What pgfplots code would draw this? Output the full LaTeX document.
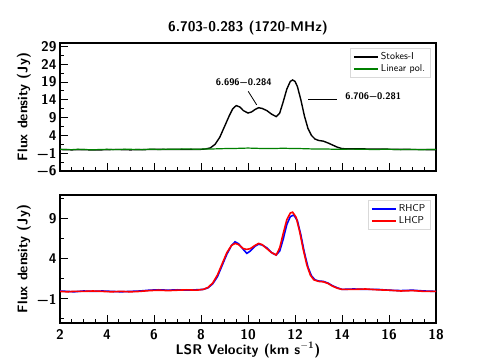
\documentclass[border=0pt]{standalone}
\usepackage{pgfplots}
\pgfplotsset{compat=1.18}
\definecolor{mplgreen}{RGB}{0,128,0}
\begin{document}
\begin{tikzpicture}
\pgfplotsset{
  panel/.style={
    scale only axis, width=376pt, height=128pt,
    xmin=2, xmax=18, xtick={2,4,...,18}, minor x tick num=3,
    tick align=inside, tick pos=left,
    axis line style={line width=1.6pt},
    major tick length=8pt, minor tick length=4pt,
    every tick/.style={black, line width=1pt},
    tick label style={font=\fontsize{14}{16}\selectfont\sffamily\bfseries},
    /pgf/number format/assume math mode=true,
    label style={font=\fontsize{14}{16}\selectfont\sffamily\bfseries},
    ylabel style={at={([xshift=-36pt]rel axis cs:0,0.5)}, anchor=center},
    xticklabel style={yshift=-3pt},
    legend cell align=left,
    legend style={
      font=\fontsize{10}{12}\selectfont\sffamily,
      draw=black!15, fill=white,
      at={(0.985,0.96)}, anchor=north east,
    },
    legend image code/.code={\draw[mark repeat=2,mark phase=2,##1]
      plot coordinates {(0pt,0pt) (12pt,0pt) (24pt,0pt)};},
    legend image post style={line width=2pt},
  }
}
\path[use as bounding box] (0pt,0pt) rectangle (484pt,363pt);

% upper panel: Stokes-I and linear polarisation
\begin{axis}[panel,
  at={(60pt,192pt)}, anchor=south west,
  ymin=-6, ymax=30,
  ytick={-6,-1,4,9,14,19,24,29},
  yticklabels={−6,−1,4,9,14,19,24,29},
  minor ytick={-3.5,1.5,6.5,11.5,16.5,21.5,26.5},
  xticklabels={},
  ylabel={Flux density (Jy)},
  title={6.703-0.283 (1720-MHz)},
  title style={font=\fontsize{14}{16}\selectfont\sffamily\bfseries,
    at={(rel axis cs:0.5,1)}, anchor=base, yshift=5.7pt},
]
\addplot[black, line width=1.4pt] coordinates {
(2.0,0.05) (2.25,0.0) (2.5,-0.05) (2.75,0.0) (3.0,0.0) (3.25,-0.05) (3.5,-0.1)
(3.75,-0.05) (4.0,0.0) (4.25,0.05) (4.5,0.05) (4.75,0.0) (5.0,-0.05) (5.25,0.0)
(5.5,0.0) (5.75,0.05) (6.0,0.1) (6.25,0.1) (6.5,0.05) (6.75,0.1) (7.0,0.1)
(7.25,0.05) (7.5,0.05) (7.75,0.1) (8.0,0.1) (8.2,0.2) (8.4,0.5) (8.6,1.5)
(8.8,3.5) (9.0,6.5) (9.2,9.5) (9.35,11.5) (9.5,12.4) (9.65,12.0) (9.8,11.0)
(10.0,10.3) (10.15,10.6) (10.3,11.3) (10.45,11.8) (10.6,11.6) (10.8,11.0)
(11.0,10.0) (11.2,9.3) (11.35,10.3) (11.5,13.5) (11.65,17.0) (11.8,19.2)
(11.9,19.6) (12.0,19.2) (12.1,17.8) (12.25,14.0) (12.4,9.5) (12.55,6.0)
(12.7,4.0) (12.85,3.0) (13.0,2.6) (13.2,2.4) (13.4,1.9) (13.6,1.3) (13.8,0.7)
(14.0,0.3) (14.3,0.2) (14.6,0.25) (15.0,0.2) (15.4,0.2) (15.8,0.15) (16.2,0.1)
(16.6,0.1) (17.0,0.05) (17.4,0.05) (17.8,0.0) (18.0,0.0)
};
\addlegendentry{Stokes-I}
\addplot[mplgreen, line width=1.2pt] coordinates {
(2.0,0.1) (2.25,0.05) (2.5,0.0) (2.75,0.1) (3.0,0.05) (3.25,0.0) (3.5,0.0)
(3.75,0.05) (4.0,0.1) (4.25,0.0) (4.5,0.05) (4.75,0.1) (5.0,0.1) (5.25,0.05)
(5.5,0.0) (5.75,0.1) (6.0,0.1) (6.25,0.05) (6.5,0.15) (6.75,0.1) (7.0,0.1)
(7.25,0.2) (7.5,0.2) (7.75,0.1) (8.0,0.15) (8.25,0.2) (8.5,0.2) (8.75,0.25)
(9.0,0.3) (9.25,0.3) (9.5,0.35) (9.75,0.4) (10.0,0.45) (10.25,0.4) (10.5,0.35)
(10.75,0.3) (11.0,0.3) (11.25,0.35) (11.5,0.4) (11.75,0.35) (12.0,0.3)
(12.25,0.3) (12.5,0.25) (12.75,0.2) (13.0,0.2) (13.25,0.2) (13.5,0.15)
(13.75,0.1) (14.0,0.1) (14.25,0.15) (14.5,0.15) (14.75,0.1) (15.0,0.1)
(15.25,0.05) (15.5,0.05) (15.75,0.1) (16.0,0.1) (16.25,0.05) (16.5,0.0)
(16.75,0.05) (17.0,0.05) (17.25,0.0) (17.5,0.0) (17.75,0.05) (18.0,0.05)
};
\addlegendentry{Linear pol.}
\node[font=\fontsize{9.5}{11}\selectfont\sffamily\bfseries, anchor=center]
  at (axis cs:9.82,18.9) {6.696−0.284};
\draw[black, line width=0.8pt] (axis cs:10.01,16.4) -- (axis cs:10.37,12.6);
\node[font=\fontsize{9.5}{11}\selectfont\sffamily\bfseries, anchor=west]
  at (axis cs:13.99,15.0) {6.706−0.281};
\draw[black, line width=0.8pt] (axis cs:12.57,14.2) -- (axis cs:13.77,14.2);
\end{axis}

% lower panel: circular polarisations
\begin{axis}[panel,
  at={(60pt,40pt)}, anchor=south west,
  ymin=-4, ymax=12,
  ytick={-1,4,9},
  yticklabels={−1,4,9},
  minor ytick={-3.5,1.5,6.5,11.5},
  ylabel={Flux density (Jy)},
  xlabel={LSR Velocity (km s$^{\mathbf{-1}}$)},
  xlabel style={at={(rel axis cs:0.5,0)}, anchor=center, yshift=-27pt},
]
\addplot[blue, line width=1.6pt] coordinates {
(2.0,0.0) (2.3,-0.05) (2.6,-0.1) (3.0,0.0) (3.4,-0.05) (3.8,0.0) (4.2,-0.05)
(4.6,-0.1) (5.0,-0.05) (5.4,0.0) (5.8,0.1) (6.2,0.15) (6.6,0.1) (7.0,0.15)
(7.4,0.1) (7.8,0.15) (8.1,0.2) (8.3,0.4) (8.5,0.9) (8.7,1.8) (8.9,3.2)
(9.1,4.6) (9.3,5.7) (9.45,6.15) (9.6,5.9) (9.8,5.2) (9.95,4.7) (10.1,5.0)
(10.3,5.6) (10.45,5.85) (10.6,5.75) (10.8,5.4) (11.0,4.8) (11.2,4.5)
(11.35,5.0) (11.5,6.5) (11.65,8.3) (11.8,9.3) (11.95,9.5) (12.1,8.8)
(12.25,7.0) (12.4,4.8) (12.55,3.0) (12.7,1.9) (12.85,1.4) (13.0,1.25)
(13.2,1.2) (13.4,1.0) (13.6,0.65) (13.8,0.4) (14.0,0.2) (14.5,0.25)
(15.0,0.2) (15.5,0.2) (16.0,0.1) (16.5,0.05) (17.0,0.1) (17.5,0.0) (18.0,-0.05)
};
\addlegendentry{RHCP}
\addplot[red, line width=1.6pt] coordinates {
(2.0,-0.05) (2.3,-0.1) (2.6,-0.05) (3.0,-0.05) (3.4,0.0) (3.8,-0.05) (4.2,-0.1)
(4.6,-0.05) (5.0,-0.1) (5.4,-0.05) (5.8,0.05) (6.2,0.1) (6.6,0.05) (7.0,0.1)
(7.4,0.15) (7.8,0.1) (8.1,0.2) (8.3,0.45) (8.5,1.0) (8.7,2.0) (8.9,3.4)
(9.1,4.8) (9.3,5.7) (9.45,5.95) (9.6,5.8) (9.8,5.3) (9.95,5.2) (10.1,5.3)
(10.3,5.7) (10.45,5.95) (10.6,5.8) (10.8,5.3) (11.0,4.8) (11.2,4.5)
(11.35,5.4) (11.5,7.2) (11.65,8.9) (11.8,9.75) (11.9,9.85) (12.05,9.2)
(12.2,7.4) (12.35,5.2) (12.5,3.3) (12.65,2.0) (12.8,1.4) (13.0,1.2)
(13.2,1.15) (13.4,0.95) (13.6,0.6) (13.8,0.35) (14.0,0.2) (14.5,0.2)
(15.0,0.25) (15.5,0.15) (16.0,0.1) (16.5,0.0) (17.0,0.05) (17.5,-0.05) (18.0,-0.05)
};
\addlegendentry{LHCP}
\end{axis}
\end{tikzpicture}
\end{document}
